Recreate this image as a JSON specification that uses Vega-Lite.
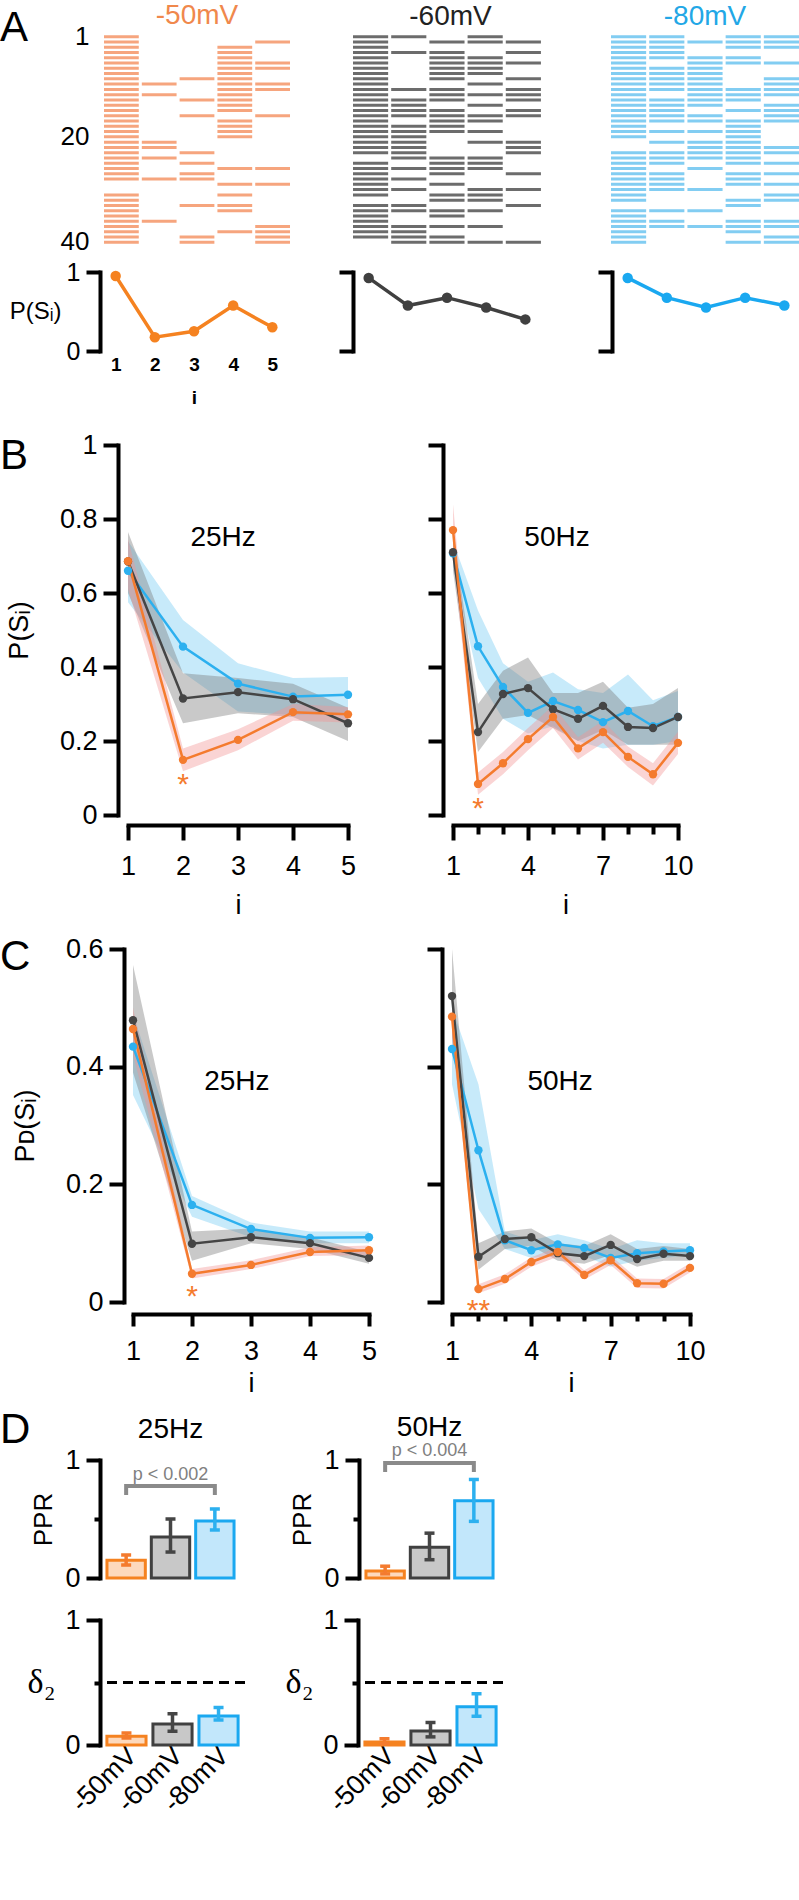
{
"$schema": "https://vega.github.io/schema/vega-lite/v6.json",
"padding": {"top": 2, "left": 0, "right": 0, "bottom": 0},
"background": "white",
"spacing": 0,
"config": {
  "view": {"stroke": null},
  "font": "Liberation Sans",
  "axis": {"grid": false, "domainColor": "black", "tickColor": "black", "labelColor": "black", "titleColor": "black", "labelFont": "Liberation Sans", "titleFont": "Liberation Sans", "labelFontSize": 27, "titleFontSize": 27, "titleFontWeight": "normal", "domainWidth": 4, "tickWidth": 4, "domainCap": "square", "labelFlush": false, "labelOverlap": false},
  "title": {"font": "Liberation Sans", "fontWeight": "normal", "color": "black"},
  "text": {"font": "Liberation Sans"}
},
"datasets": {
"r50": [
{"trial":1,"row":1},{"trial":1,"row":2},{"trial":1,"row":3},{"trial":1,"row":4},{"trial":1,"row":5},{"trial":1,"row":6},{"trial":1,"row":7},{"trial":1,"row":8},{"trial":1,"row":9},{"trial":1,"row":10},{"trial":1,"row":11},{"trial":1,"row":12},{"trial":1,"row":13},{"trial":1,"row":14},{"trial":1,"row":15},{"trial":1,"row":16},{"trial":1,"row":17},{"trial":1,"row":18},{"trial":1,"row":19},{"trial":1,"row":20},{"trial":1,"row":21},{"trial":1,"row":22},{"trial":1,"row":23},{"trial":1,"row":24},{"trial":1,"row":25},{"trial":1,"row":26},{"trial":1,"row":27},{"trial":1,"row":28},{"trial":1,"row":31},{"trial":1,"row":32},{"trial":1,"row":33},{"trial":1,"row":34},{"trial":1,"row":35},{"trial":1,"row":36},{"trial":1,"row":37},{"trial":1,"row":38},{"trial":1,"row":39},{"trial":1,"row":40},
{"trial":2,"row":10},{"trial":2,"row":12},{"trial":2,"row":21},{"trial":2,"row":22},{"trial":2,"row":24},{"trial":2,"row":28},{"trial":2,"row":36},
{"trial":3,"row":9},{"trial":3,"row":13},{"trial":3,"row":16},{"trial":3,"row":23},{"trial":3,"row":25},{"trial":3,"row":27},{"trial":3,"row":28},{"trial":3,"row":33},{"trial":3,"row":39},{"trial":3,"row":40},
{"trial":4,"row":3},{"trial":4,"row":4},{"trial":4,"row":5},{"trial":4,"row":6},{"trial":4,"row":7},{"trial":4,"row":8},{"trial":4,"row":9},{"trial":4,"row":10},{"trial":4,"row":11},{"trial":4,"row":12},{"trial":4,"row":13},{"trial":4,"row":14},{"trial":4,"row":15},{"trial":4,"row":17},{"trial":4,"row":18},{"trial":4,"row":19},{"trial":4,"row":20},{"trial":4,"row":26},{"trial":4,"row":29},{"trial":4,"row":31},{"trial":4,"row":33},{"trial":4,"row":34},{"trial":4,"row":38},
{"trial":5,"row":2},{"trial":5,"row":6},{"trial":5,"row":7},{"trial":5,"row":10},{"trial":5,"row":11},{"trial":5,"row":16},{"trial":5,"row":26},{"trial":5,"row":29},{"trial":5,"row":37},{"trial":5,"row":38},{"trial":5,"row":39},{"trial":5,"row":40}
],
"r60": [
{"trial":1,"row":1},{"trial":1,"row":2},{"trial":1,"row":3},{"trial":1,"row":4},{"trial":1,"row":5},{"trial":1,"row":6},{"trial":1,"row":7},{"trial":1,"row":8},{"trial":1,"row":9},{"trial":1,"row":10},{"trial":1,"row":11},{"trial":1,"row":12},{"trial":1,"row":13},{"trial":1,"row":14},{"trial":1,"row":15},{"trial":1,"row":16},{"trial":1,"row":17},{"trial":1,"row":18},{"trial":1,"row":19},{"trial":1,"row":20},{"trial":1,"row":21},{"trial":1,"row":22},{"trial":1,"row":23},{"trial":1,"row":25},{"trial":1,"row":26},{"trial":1,"row":27},{"trial":1,"row":28},{"trial":1,"row":29},{"trial":1,"row":30},{"trial":1,"row":31},{"trial":1,"row":33},{"trial":1,"row":34},{"trial":1,"row":35},{"trial":1,"row":36},{"trial":1,"row":37},{"trial":1,"row":38},{"trial":1,"row":39},
{"trial":2,"row":1},{"trial":2,"row":4},{"trial":2,"row":11},{"trial":2,"row":13},{"trial":2,"row":14},{"trial":2,"row":15},{"trial":2,"row":16},{"trial":2,"row":18},{"trial":2,"row":19},{"trial":2,"row":20},{"trial":2,"row":21},{"trial":2,"row":22},{"trial":2,"row":23},{"trial":2,"row":24},{"trial":2,"row":26},{"trial":2,"row":28},{"trial":2,"row":30},{"trial":2,"row":33},{"trial":2,"row":34},{"trial":2,"row":37},{"trial":2,"row":38},{"trial":2,"row":39},{"trial":2,"row":40},
{"trial":3,"row":2},{"trial":3,"row":4},{"trial":3,"row":5},{"trial":3,"row":6},{"trial":3,"row":7},{"trial":3,"row":8},{"trial":3,"row":9},{"trial":3,"row":11},{"trial":3,"row":12},{"trial":3,"row":13},{"trial":3,"row":15},{"trial":3,"row":16},{"trial":3,"row":17},{"trial":3,"row":18},{"trial":3,"row":19},{"trial":3,"row":24},{"trial":3,"row":25},{"trial":3,"row":26},{"trial":3,"row":27},{"trial":3,"row":29},{"trial":3,"row":31},{"trial":3,"row":32},{"trial":3,"row":34},{"trial":3,"row":35},{"trial":3,"row":37},{"trial":3,"row":39},{"trial":3,"row":40},
{"trial":4,"row":1},{"trial":4,"row":2},{"trial":4,"row":5},{"trial":4,"row":6},{"trial":4,"row":7},{"trial":4,"row":8},{"trial":4,"row":10},{"trial":4,"row":12},{"trial":4,"row":14},{"trial":4,"row":16},{"trial":4,"row":17},{"trial":4,"row":19},{"trial":4,"row":21},{"trial":4,"row":24},{"trial":4,"row":25},{"trial":4,"row":26},{"trial":4,"row":30},{"trial":4,"row":31},{"trial":4,"row":32},{"trial":4,"row":34},{"trial":4,"row":37},{"trial":4,"row":40},
{"trial":5,"row":2},{"trial":5,"row":4},{"trial":5,"row":6},{"trial":5,"row":9},{"trial":5,"row":11},{"trial":5,"row":12},{"trial":5,"row":13},{"trial":5,"row":15},{"trial":5,"row":16},{"trial":5,"row":21},{"trial":5,"row":22},{"trial":5,"row":23},{"trial":5,"row":27},{"trial":5,"row":30},{"trial":5,"row":33},{"trial":5,"row":40}
],
"r80": [
{"trial":1,"row":1},{"trial":1,"row":2},{"trial":1,"row":3},{"trial":1,"row":4},{"trial":1,"row":5},{"trial":1,"row":6},{"trial":1,"row":7},{"trial":1,"row":8},{"trial":1,"row":9},{"trial":1,"row":10},{"trial":1,"row":11},{"trial":1,"row":12},{"trial":1,"row":13},{"trial":1,"row":14},{"trial":1,"row":15},{"trial":1,"row":16},{"trial":1,"row":17},{"trial":1,"row":18},{"trial":1,"row":19},{"trial":1,"row":20},{"trial":1,"row":23},{"trial":1,"row":24},{"trial":1,"row":25},{"trial":1,"row":26},{"trial":1,"row":27},{"trial":1,"row":28},{"trial":1,"row":29},{"trial":1,"row":30},{"trial":1,"row":31},{"trial":1,"row":32},{"trial":1,"row":34},{"trial":1,"row":35},{"trial":1,"row":36},{"trial":1,"row":37},{"trial":1,"row":38},{"trial":1,"row":39},{"trial":1,"row":40},
{"trial":2,"row":1},{"trial":2,"row":2},{"trial":2,"row":3},{"trial":2,"row":4},{"trial":2,"row":5},{"trial":2,"row":7},{"trial":2,"row":8},{"trial":2,"row":9},{"trial":2,"row":10},{"trial":2,"row":11},{"trial":2,"row":13},{"trial":2,"row":14},{"trial":2,"row":15},{"trial":2,"row":16},{"trial":2,"row":17},{"trial":2,"row":19},{"trial":2,"row":21},{"trial":2,"row":23},{"trial":2,"row":24},{"trial":2,"row":25},{"trial":2,"row":27},{"trial":2,"row":28},{"trial":2,"row":29},{"trial":2,"row":30},{"trial":2,"row":34},{"trial":2,"row":36},{"trial":2,"row":37},
{"trial":3,"row":2},{"trial":3,"row":5},{"trial":3,"row":6},{"trial":3,"row":7},{"trial":3,"row":8},{"trial":3,"row":9},{"trial":3,"row":10},{"trial":3,"row":11},{"trial":3,"row":12},{"trial":3,"row":13},{"trial":3,"row":14},{"trial":3,"row":16},{"trial":3,"row":17},{"trial":3,"row":19},{"trial":3,"row":21},{"trial":3,"row":22},{"trial":3,"row":23},{"trial":3,"row":24},{"trial":3,"row":26},{"trial":3,"row":30},{"trial":3,"row":34},{"trial":3,"row":37},
{"trial":4,"row":1},{"trial":4,"row":2},{"trial":4,"row":3},{"trial":4,"row":5},{"trial":4,"row":6},{"trial":4,"row":11},{"trial":4,"row":12},{"trial":4,"row":13},{"trial":4,"row":15},{"trial":4,"row":17},{"trial":4,"row":18},{"trial":4,"row":19},{"trial":4,"row":20},{"trial":4,"row":21},{"trial":4,"row":22},{"trial":4,"row":23},{"trial":4,"row":24},{"trial":4,"row":25},{"trial":4,"row":27},{"trial":4,"row":28},{"trial":4,"row":29},{"trial":4,"row":32},{"trial":4,"row":33},{"trial":4,"row":36},{"trial":4,"row":37},{"trial":4,"row":38},{"trial":4,"row":40},
{"trial":5,"row":1},{"trial":5,"row":2},{"trial":5,"row":3},{"trial":5,"row":6},{"trial":5,"row":9},{"trial":5,"row":10},{"trial":5,"row":11},{"trial":5,"row":12},{"trial":5,"row":14},{"trial":5,"row":15},{"trial":5,"row":16},{"trial":5,"row":17},{"trial":5,"row":22},{"trial":5,"row":23},{"trial":5,"row":25},{"trial":5,"row":27},{"trial":5,"row":29},{"trial":5,"row":31},{"trial":5,"row":32},{"trial":5,"row":36},{"trial":5,"row":37},{"trial":5,"row":39},{"trial":5,"row":40}
],
"psi": [
{"c":"-50mV","i":1,"p":0.95},{"c":"-50mV","i":2,"p":0.175},{"c":"-50mV","i":3,"p":0.25},{"c":"-50mV","i":4,"p":0.575},{"c":"-50mV","i":5,"p":0.3},
{"c":"-60mV","i":1,"p":0.925},{"c":"-60mV","i":2,"p":0.575},{"c":"-60mV","i":3,"p":0.675},{"c":"-60mV","i":4,"p":0.55},{"c":"-60mV","i":5,"p":0.4},
{"c":"-80mV","i":1,"p":0.925},{"c":"-80mV","i":2,"p":0.675},{"c":"-80mV","i":3,"p":0.55},{"c":"-80mV","i":4,"p":0.675},{"c":"-80mV","i":5,"p":0.575}
],
"b25": [
{"c":"-80mV","i":1,"m":0.66,"lo":0.575,"hi":0.74},{"c":"-80mV","i":2,"m":0.455,"lo":0.385,"hi":0.527},{"c":"-80mV","i":3,"m":0.355,"lo":0.28,"hi":0.41},{"c":"-80mV","i":4,"m":0.32,"lo":0.27,"hi":0.37},{"c":"-80mV","i":5,"m":0.325,"lo":0.275,"hi":0.373},
{"c":"-60mV","i":1,"m":0.685,"lo":0.6,"hi":0.765},{"c":"-60mV","i":2,"m":0.315,"lo":0.248,"hi":0.383},{"c":"-60mV","i":3,"m":0.332,"lo":0.275,"hi":0.37},{"c":"-60mV","i":4,"m":0.313,"lo":0.265,"hi":0.355},{"c":"-60mV","i":5,"m":0.248,"lo":0.2,"hi":0.29},
{"c":"-50mV","i":1,"m":0.686,"lo":0.61,"hi":0.745},{"c":"-50mV","i":2,"m":0.149,"lo":0.118,"hi":0.18},{"c":"-50mV","i":3,"m":0.203,"lo":0.175,"hi":0.232},{"c":"-50mV","i":4,"m":0.278,"lo":0.255,"hi":0.3},{"c":"-50mV","i":5,"m":0.272,"lo":0.25,"hi":0.292}
],
"b50": [
{"c":"-80mV","i":1,"m":0.707,"lo":0.67,"hi":0.74},{"c":"-80mV","i":2,"m":0.456,"lo":0.37,"hi":0.553},{"c":"-80mV","i":3,"m":0.346,"lo":0.26,"hi":0.41},{"c":"-80mV","i":4,"m":0.276,"lo":0.22,"hi":0.36},{"c":"-80mV","i":5,"m":0.308,"lo":0.24,"hi":0.385},{"c":"-80mV","i":6,"m":0.284,"lo":0.2,"hi":0.34},{"c":"-80mV","i":7,"m":0.251,"lo":0.18,"hi":0.33},{"c":"-80mV","i":8,"m":0.281,"lo":0.19,"hi":0.38},{"c":"-80mV","i":9,"m":0.24,"lo":0.19,"hi":0.31},{"c":"-80mV","i":10,"m":0.265,"lo":0.2,"hi":0.335},
{"c":"-60mV","i":1,"m":0.71,"lo":0.66,"hi":0.76},{"c":"-60mV","i":2,"m":0.224,"lo":0.17,"hi":0.3},{"c":"-60mV","i":3,"m":0.327,"lo":0.26,"hi":0.39},{"c":"-60mV","i":4,"m":0.343,"lo":0.27,"hi":0.426},{"c":"-60mV","i":5,"m":0.286,"lo":0.235,"hi":0.33},{"c":"-60mV","i":6,"m":0.26,"lo":0.2,"hi":0.33},{"c":"-60mV","i":7,"m":0.295,"lo":0.23,"hi":0.36},{"c":"-60mV","i":8,"m":0.238,"lo":0.19,"hi":0.29},{"c":"-60mV","i":9,"m":0.235,"lo":0.19,"hi":0.3},{"c":"-60mV","i":10,"m":0.265,"lo":0.19,"hi":0.343},
{"c":"-50mV","i":1,"m":0.77,"lo":0.7,"hi":0.84},{"c":"-50mV","i":2,"m":0.084,"lo":0.055,"hi":0.115},{"c":"-50mV","i":3,"m":0.14,"lo":0.11,"hi":0.17},{"c":"-50mV","i":4,"m":0.205,"lo":0.175,"hi":0.235},{"c":"-50mV","i":5,"m":0.265,"lo":0.235,"hi":0.295},{"c":"-50mV","i":6,"m":0.18,"lo":0.15,"hi":0.21},{"c":"-50mV","i":7,"m":0.224,"lo":0.195,"hi":0.255},{"c":"-50mV","i":8,"m":0.157,"lo":0.13,"hi":0.185},{"c":"-50mV","i":9,"m":0.11,"lo":0.08,"hi":0.14},{"c":"-50mV","i":10,"m":0.195,"lo":0.165,"hi":0.225}
],
"c25": [
{"c":"-80mV","i":1,"m":0.434,"lo":0.352,"hi":0.49},{"c":"-80mV","i":2,"m":0.165,"lo":0.145,"hi":0.18},{"c":"-80mV","i":3,"m":0.124,"lo":0.11,"hi":0.135},{"c":"-80mV","i":4,"m":0.109,"lo":0.1,"hi":0.12},{"c":"-80mV","i":5,"m":0.11,"lo":0.1,"hi":0.12},
{"c":"-60mV","i":1,"m":0.479,"lo":0.39,"hi":0.573},{"c":"-60mV","i":2,"m":0.099,"lo":0.07,"hi":0.12},{"c":"-60mV","i":3,"m":0.11,"lo":0.1,"hi":0.125},{"c":"-60mV","i":4,"m":0.1,"lo":0.09,"hi":0.11},{"c":"-60mV","i":5,"m":0.075,"lo":0.065,"hi":0.085},
{"c":"-50mV","i":1,"m":0.464,"lo":0.42,"hi":0.5},{"c":"-50mV","i":2,"m":0.048,"lo":0.04,"hi":0.056},{"c":"-50mV","i":3,"m":0.063,"lo":0.056,"hi":0.071},{"c":"-50mV","i":4,"m":0.085,"lo":0.078,"hi":0.093},{"c":"-50mV","i":5,"m":0.088,"lo":0.08,"hi":0.096}
],
"c50": [
{"c":"-80mV","i":1,"m":0.43,"lo":0.37,"hi":0.5},{"c":"-80mV","i":2,"m":0.258,"lo":0.158,"hi":0.37},{"c":"-80mV","i":3,"m":0.105,"lo":0.09,"hi":0.12},{"c":"-80mV","i":4,"m":0.088,"lo":0.075,"hi":0.105},{"c":"-80mV","i":5,"m":0.098,"lo":0.08,"hi":0.115},{"c":"-80mV","i":6,"m":0.092,"lo":0.078,"hi":0.105},{"c":"-80mV","i":7,"m":0.075,"lo":0.06,"hi":0.09},{"c":"-80mV","i":8,"m":0.083,"lo":0.07,"hi":0.105},{"c":"-80mV","i":9,"m":0.086,"lo":0.075,"hi":0.1},{"c":"-80mV","i":10,"m":0.088,"lo":0.08,"hi":0.1},
{"c":"-60mV","i":1,"m":0.52,"lo":0.45,"hi":0.6},{"c":"-60mV","i":2,"m":0.077,"lo":0.055,"hi":0.1},{"c":"-60mV","i":3,"m":0.107,"lo":0.09,"hi":0.12},{"c":"-60mV","i":4,"m":0.11,"lo":0.095,"hi":0.125},{"c":"-60mV","i":5,"m":0.083,"lo":0.07,"hi":0.1},{"c":"-60mV","i":6,"m":0.078,"lo":0.065,"hi":0.095},{"c":"-60mV","i":7,"m":0.097,"lo":0.08,"hi":0.115},{"c":"-60mV","i":8,"m":0.073,"lo":0.06,"hi":0.09},{"c":"-60mV","i":9,"m":0.082,"lo":0.07,"hi":0.095},{"c":"-60mV","i":10,"m":0.078,"lo":0.07,"hi":0.09},
{"c":"-50mV","i":1,"m":0.485,"lo":0.45,"hi":0.52},{"c":"-50mV","i":2,"m":0.022,"lo":0.015,"hi":0.03},{"c":"-50mV","i":3,"m":0.039,"lo":0.031,"hi":0.047},{"c":"-50mV","i":4,"m":0.068,"lo":0.06,"hi":0.076},{"c":"-50mV","i":5,"m":0.085,"lo":0.077,"hi":0.093},{"c":"-50mV","i":6,"m":0.046,"lo":0.038,"hi":0.054},{"c":"-50mV","i":7,"m":0.071,"lo":0.063,"hi":0.079},{"c":"-50mV","i":8,"m":0.032,"lo":0.024,"hi":0.04},{"c":"-50mV","i":9,"m":0.031,"lo":0.023,"hi":0.039},{"c":"-50mV","i":10,"m":0.058,"lo":0.05,"hi":0.066}
],
"ppr25": [{"c":"-50mV","v":0.15,"lo":0.11,"hi":0.195},{"c":"-60mV","v":0.347,"lo":0.22,"hi":0.5},{"c":"-80mV","v":0.483,"lo":0.407,"hi":0.585}],
"ppr50": [{"c":"-50mV","v":0.06,"lo":0.035,"hi":0.1},{"c":"-60mV","v":0.26,"lo":0.155,"hi":0.38},{"c":"-80mV","v":0.655,"lo":0.48,"hi":0.835}],
"d25": [{"c":"-50mV","v":0.07,"lo":0.056,"hi":0.096},{"c":"-60mV","v":0.168,"lo":0.11,"hi":0.25},{"c":"-80mV","v":0.232,"lo":0.2,"hi":0.3}],
"d50": [{"c":"-50mV","v":0.025,"lo":0.01,"hi":0.05},{"c":"-60mV","v":0.113,"lo":0.065,"hi":0.18},{"c":"-80mV","v":0.306,"lo":0.23,"hi":0.41}],
"br25": [{"c":"-50mV","y":0.703,"o":1},{"c":"-50mV","y":0.78,"o":2},{"c":"-80mV","y":0.78,"o":3},{"c":"-80mV","y":0.703,"o":4}],
"br50": [{"c":"-50mV","y":0.898,"o":1},{"c":"-50mV","y":0.975,"o":2},{"c":"-80mV","y":0.975,"o":3},{"c":"-80mV","y":0.898,"o":4}]
},
"vconcat": [
{
 "bounds": "flush", "spacing": 63,
 "hconcat": [
  {"width": 41, "height": 1, "data": {"values": []}, "mark": "point",
   "title": {"text": "A", "anchor": "start", "frame": "group", "fontSize": 42, "offset": -16}},
  {"width": 186, "height": 211, "data": {"name": "r50"},
   "title": {"text": "-50mV", "color": "#f0884c", "fontSize": 28, "frame": "group", "offset": -7},
   "mark": {"type": "rect", "color": "#f6a57e"},
   "encoding": {
    "x": {"field": "trial", "type": "ordinal", "scale": {"domain": [1,2,3,4,5], "paddingInner": 0.08, "paddingOuter": 0}, "axis": null},
    "y": {"field": "row", "type": "ordinal", "scale": {"domain": [1,2,3,4,5,6,7,8,9,10,11,12,13,14,15,16,17,18,19,20,21,22,23,24,25,26,27,28,29,30,31,32,33,34,35,36,37,38,39,40], "paddingInner": 0.43, "paddingOuter": 0.215},
          "axis": {"values": [1,20,40], "domain": false, "ticks": false, "tickSize": 0, "labelPadding": 15, "labelFontSize": 26, "title": null}}
   }},
  {"width": 195, "height": 211, "data": {"name": "r60"},
   "title": {"text": "-60mV", "color": "#222222", "fontSize": 28, "frame": "group", "offset": 3},
   "mark": {"type": "rect", "color": "#6c6c6c"},
   "encoding": {
    "x": {"field": "trial", "type": "ordinal", "scale": {"domain": [1,2,3,4,5], "paddingInner": 0.08, "paddingOuter": 0.0925, "align": 0}, "axis": null},
    "y": {"field": "row", "type": "ordinal", "scale": {"domain": [1,2,3,4,5,6,7,8,9,10,11,12,13,14,15,16,17,18,19,20,21,22,23,24,25,26,27,28,29,30,31,32,33,34,35,36,37,38,39,40], "paddingInner": 0.43, "paddingOuter": 0.215}, "axis": null}
   }},
  {"width": 188, "height": 211, "data": {"name": "r80"},
   "title": {"text": "-80mV", "color": "#22a7e6", "fontSize": 28, "frame": "group", "offset": 3},
   "mark": {"type": "rect", "color": "#82cdf2"},
   "encoding": {
    "x": {"field": "trial", "type": "ordinal", "scale": {"domain": [1,2,3,4,5], "paddingInner": 0.08, "paddingOuter": 0}, "axis": null},
    "y": {"field": "row", "type": "ordinal", "scale": {"domain": [1,2,3,4,5,6,7,8,9,10,11,12,13,14,15,16,17,18,19,20,21,22,23,24,25,26,27,28,29,30,31,32,33,34,35,36,37,38,39,40], "paddingInner": 0.43, "paddingOuter": 0.215}, "axis": null}
   }}
 ]
},
{"width": 1, "height": 5, "data": {"values": []}, "mark": "point"},
{
 "bounds": "flush", "spacing": 65,
 "hconcat": [
  {"width": 35, "height": 1, "data": {"values": []}, "mark": "point"},
  {"width": 188, "height": 79, "data": {"name": "psi"},
   "transform": [{"filter": "datum.c === '-50mV'"}],
   "mark": {"type": "line", "color": "#f58220", "strokeWidth": 3.5, "point": {"filled": true, "size": 110, "color": "#f58220"}},
   "encoding": {
    "x": {"field": "i", "type": "quantitative", "scale": {"domain": [0.6, 5.4], "nice": false, "zero": false},
          "axis": {"values": [1,2,3,4,5], "format": "d", "domain": false, "ticks": false, "tickSize": 0, "labelFontSize": 19, "labelFontWeight": "bold", "labelPadding": 4, "title": "i", "titleFontSize": 19, "titleFontWeight": "bold", "titlePadding": 14}},
    "y": {"field": "p", "type": "quantitative", "scale": {"domain": [0, 1], "nice": false},
          "axis": {"values": [0, 1], "format": "d", "tickSize": 14, "labelFontSize": 25, "labelPadding": 6, "title": "P(Sᵢ)", "titleAngle": 0, "titleAlign": "right", "titleBaseline": "middle", "titlePadding": 5, "titleFontSize": 24}}
   }},
  {"width": 194, "height": 79, "data": {"name": "psi"},
   "transform": [{"filter": "datum.c === '-60mV'"}],
   "mark": {"type": "line", "color": "#404040", "strokeWidth": 3.5, "point": {"filled": true, "size": 110, "color": "#404040"}},
   "encoding": {
    "x": {"field": "i", "type": "quantitative", "scale": {"domain": [0.6, 5.553], "nice": false, "zero": false}, "axis": null},
    "y": {"field": "p", "type": "quantitative", "scale": {"domain": [0, 1], "nice": false},
          "axis": {"values": [0, 1], "tickSize": 14, "labels": false, "title": null}}
   }},
  {"width": 187, "height": 79, "data": {"name": "psi"},
   "transform": [{"filter": "datum.c === '-80mV'"}],
   "mark": {"type": "line", "color": "#1aa8f0", "strokeWidth": 3.5, "point": {"filled": true, "size": 110, "color": "#1aa8f0"}},
   "encoding": {
    "x": {"field": "i", "type": "quantitative", "scale": {"domain": [0.6, 5.374], "nice": false, "zero": false}, "axis": null},
    "y": {"field": "p", "type": "quantitative", "scale": {"domain": [0, 1], "nice": false},
          "axis": {"values": [0, 1], "tickSize": 14, "labels": false, "title": null}}
   }}
 ]
},
{"width": 1, "height": 24, "data": {"values": []}, "mark": "point"},
{
 "bounds": "flush", "spacing": 105,
 "hconcat": [
  {"width": 23, "height": 1, "data": {"values": []}, "mark": "point",
   "title": {"text": "B", "anchor": "start", "frame": "group", "fontSize": 42, "offset": -33}},
  {"width": 220, "height": 370,
   "layer": [
    {"data": {"name": "b25"}, "transform": [{"filter": "datum.c === '-80mV'"}], "mark": {"type": "area", "color": "#73caf2", "opacity": 0.4},
     "encoding": {
      "x": {"field": "i", "type": "quantitative", "scale": {"domain": [1, 5], "nice": false, "zero": false},
            "axis": {"values": [1,2,3,4,5], "format": "d", "offset": 10, "tickSize": 15, "labelPadding": 13, "title": "i", "titlePadding": 13}},
      "y": {"field": "lo", "type": "quantitative", "scale": {"domain": [0, 1], "nice": false, "zero": false},
            "axis": {"values": [0,0.2,0.4,0.6,0.8,1], "format": "~g", "offset": 10, "tickSize": 15, "labelPadding": 6, "title": "P(Sᵢ)", "titlePadding": 26}},
      "y2": {"field": "hi"}}},
    {"data": {"name": "b25"}, "transform": [{"filter": "datum.c === '-60mV'"}], "mark": {"type": "area", "color": "#787878", "opacity": 0.4},
     "encoding": {"x": {"field": "i", "type": "quantitative"}, "y": {"field": "lo", "type": "quantitative"}, "y2": {"field": "hi"}}},
    {"data": {"name": "b25"}, "transform": [{"filter": "datum.c === '-50mV'"}], "mark": {"type": "area", "color": "#f29494", "opacity": 0.4},
     "encoding": {"x": {"field": "i", "type": "quantitative"}, "y": {"field": "lo", "type": "quantitative"}, "y2": {"field": "hi"}}},
    {"data": {"name": "b25"}, "mark": {"type": "line", "strokeWidth": 2.5},
     "encoding": {"x": {"field": "i", "type": "quantitative"}, "y": {"field": "m", "type": "quantitative"},
      "stroke": {"field": "c", "type": "nominal", "scale": {"domain": ["-50mV","-60mV","-80mV"], "range": ["#f47b2e","#454545","#2cb0ef"]}, "legend": null}}},
    {"data": {"name": "b25"}, "mark": {"type": "circle", "size": 70, "opacity": 1},
     "encoding": {"x": {"field": "i", "type": "quantitative"}, "y": {"field": "m", "type": "quantitative"},
      "color": {"field": "c", "type": "nominal", "scale": {"domain": ["-50mV","-60mV","-80mV"], "range": ["#f47b2e","#454545","#2cb0ef"]}, "legend": null}}},
    {"data": {"values": [{}]}, "mark": {"type": "text", "text": "25Hz", "fontSize": 28}, "encoding": {"x": {"datum": 2.73}, "y": {"datum": 0.749}}},
    {"data": {"values": [{}]}, "mark": {"type": "text", "text": "*", "fontSize": 30, "color": "#f47b2e"}, "encoding": {"x": {"datum": 2}, "y": {"datum": 0.08}}}
   ]},
  {"width": 225, "height": 370,
   "resolve": {"axis": {"x": "independent"}},
   "layer": [
    {"data": {"name": "b50"}, "transform": [{"filter": "datum.c === '-80mV'"}], "mark": {"type": "area", "color": "#73caf2", "opacity": 0.4},
     "encoding": {
      "x": {"field": "i", "type": "quantitative", "scale": {"domain": [1, 10], "nice": false, "zero": false},
            "axis": {"orient": "bottom", "values": [1,4,7,10], "format": "d", "offset": 10, "tickSize": 15, "labelPadding": 13, "title": "i", "titlePadding": 13}},
      "y": {"field": "lo", "type": "quantitative", "scale": {"domain": [0, 1], "nice": false, "zero": false},
            "axis": {"values": [0,0.2,0.4,0.6,0.8,1], "offset": 10, "tickSize": 15, "labels": false, "title": null}},
      "y2": {"field": "hi"}}},
    {"data": {"name": "b50"}, "transform": [{"filter": "datum.c === '-60mV'"}], "mark": {"type": "area", "color": "#787878", "opacity": 0.4},
     "encoding": {"x": {"field": "i", "type": "quantitative", "axis": null}, "y": {"field": "lo", "type": "quantitative"}, "y2": {"field": "hi"}}},
    {"data": {"name": "b50"}, "transform": [{"filter": "datum.c === '-50mV'"}], "mark": {"type": "area", "color": "#f29494", "opacity": 0.4},
     "encoding": {"x": {"field": "i", "type": "quantitative", "axis": null}, "y": {"field": "lo", "type": "quantitative"}, "y2": {"field": "hi"}}},
    {"data": {"name": "b50"}, "mark": {"type": "line", "strokeWidth": 2.5},
     "encoding": {"x": {"field": "i", "type": "quantitative", "axis": null}, "y": {"field": "m", "type": "quantitative"},
      "stroke": {"field": "c", "type": "nominal", "scale": {"domain": ["-50mV","-60mV","-80mV"], "range": ["#f47b2e","#454545","#2cb0ef"]}, "legend": null}}},
    {"data": {"name": "b50"}, "mark": {"type": "circle", "size": 70, "opacity": 1},
     "encoding": {"x": {"field": "i", "type": "quantitative", "axis": {"orient": "bottom", "values": [2,3,5,6,8,9], "labels": false, "domain": false, "offset": 10, "tickSize": 9, "title": null}}, "y": {"field": "m", "type": "quantitative"},
      "color": {"field": "c", "type": "nominal", "scale": {"domain": ["-50mV","-60mV","-80mV"], "range": ["#f47b2e","#454545","#2cb0ef"]}, "legend": null}}},
    {"data": {"values": [{}]}, "mark": {"type": "text", "text": "50Hz", "fontSize": 28}, "encoding": {"x": {"datum": 5.16, "axis": null}, "y": {"datum": 0.749}}},
    {"data": {"values": [{}]}, "mark": {"type": "text", "text": "*", "fontSize": 30, "color": "#f47b2e"}, "encoding": {"x": {"datum": 2, "axis": null}, "y": {"datum": 0.015}}}
   ]}
 ]
},
{"width": 1, "height": 17, "data": {"values": []}, "mark": "point"},
{
 "bounds": "flush", "spacing": 83,
 "hconcat": [
  {"width": 50, "height": 1, "data": {"values": []}, "mark": "point",
   "title": {"text": "C", "anchor": "start", "frame": "group", "fontSize": 42, "offset": -30}},
  {"width": 236, "height": 353,
   "layer": [
    {"data": {"name": "c25"}, "transform": [{"filter": "datum.c === '-80mV'"}], "mark": {"type": "area", "color": "#73caf2", "opacity": 0.4},
     "encoding": {
      "x": {"field": "i", "type": "quantitative", "scale": {"domain": [1, 5], "nice": false, "zero": false},
            "axis": {"values": [1,2,3,4,5], "format": "d", "offset": 12, "tickSize": 12, "labelPadding": 12, "title": "i", "titlePadding": 6}},
      "y": {"field": "lo", "type": "quantitative", "scale": {"domain": [0, 0.6], "nice": false, "zero": false},
            "axis": {"values": [0,0.2,0.4,0.6], "format": "~g", "offset": 9, "tickSize": 15, "labelPadding": 6, "title": "Pᴅ(Sᵢ)", "titlePadding": 26}},
      "y2": {"field": "hi"}}},
    {"data": {"name": "c25"}, "transform": [{"filter": "datum.c === '-60mV'"}], "mark": {"type": "area", "color": "#787878", "opacity": 0.4},
     "encoding": {"x": {"field": "i", "type": "quantitative"}, "y": {"field": "lo", "type": "quantitative"}, "y2": {"field": "hi"}}},
    {"data": {"name": "c25"}, "transform": [{"filter": "datum.c === '-50mV'"}], "mark": {"type": "area", "color": "#f29494", "opacity": 0.4},
     "encoding": {"x": {"field": "i", "type": "quantitative"}, "y": {"field": "lo", "type": "quantitative"}, "y2": {"field": "hi"}}},
    {"data": {"name": "c25"}, "mark": {"type": "line", "strokeWidth": 2.5},
     "encoding": {"x": {"field": "i", "type": "quantitative"}, "y": {"field": "m", "type": "quantitative"},
      "stroke": {"field": "c", "type": "nominal", "scale": {"domain": ["-50mV","-60mV","-80mV"], "range": ["#f47b2e","#454545","#2cb0ef"]}, "legend": null}}},
    {"data": {"name": "c25"}, "mark": {"type": "circle", "size": 70, "opacity": 1},
     "encoding": {"x": {"field": "i", "type": "quantitative"}, "y": {"field": "m", "type": "quantitative"},
      "color": {"field": "c", "type": "nominal", "scale": {"domain": ["-50mV","-60mV","-80mV"], "range": ["#f47b2e","#454545","#2cb0ef"]}, "legend": null}}},
    {"data": {"values": [{}]}, "mark": {"type": "text", "text": "25Hz", "fontSize": 28}, "encoding": {"x": {"datum": 2.76}, "y": {"datum": 0.374}}},
    {"data": {"values": [{}]}, "mark": {"type": "text", "text": "*", "fontSize": 30, "color": "#f47b2e"}, "encoding": {"x": {"datum": 2}, "y": {"datum": 0.008}}}
   ]},
  {"width": 238, "height": 353,
   "resolve": {"axis": {"x": "independent"}},
   "layer": [
    {"data": {"name": "c50"}, "transform": [{"filter": "datum.c === '-80mV'"}], "mark": {"type": "area", "color": "#73caf2", "opacity": 0.4},
     "encoding": {
      "x": {"field": "i", "type": "quantitative", "scale": {"domain": [1, 10], "nice": false, "zero": false},
            "axis": {"orient": "bottom", "values": [1,4,7,10], "format": "d", "offset": 12, "tickSize": 12, "labelPadding": 12, "title": "i", "titlePadding": 6}},
      "y": {"field": "lo", "type": "quantitative", "scale": {"domain": [0, 0.6], "nice": false, "zero": false},
            "axis": {"values": [0,0.2,0.4,0.6], "offset": 10, "tickSize": 15, "labels": false, "title": null}},
      "y2": {"field": "hi"}}},
    {"data": {"name": "c50"}, "transform": [{"filter": "datum.c === '-60mV'"}], "mark": {"type": "area", "color": "#787878", "opacity": 0.4},
     "encoding": {"x": {"field": "i", "type": "quantitative", "axis": null}, "y": {"field": "lo", "type": "quantitative"}, "y2": {"field": "hi"}}},
    {"data": {"name": "c50"}, "transform": [{"filter": "datum.c === '-50mV'"}], "mark": {"type": "area", "color": "#f29494", "opacity": 0.4},
     "encoding": {"x": {"field": "i", "type": "quantitative", "axis": null}, "y": {"field": "lo", "type": "quantitative"}, "y2": {"field": "hi"}}},
    {"data": {"name": "c50"}, "mark": {"type": "line", "strokeWidth": 2.5},
     "encoding": {"x": {"field": "i", "type": "quantitative", "axis": null}, "y": {"field": "m", "type": "quantitative"},
      "stroke": {"field": "c", "type": "nominal", "scale": {"domain": ["-50mV","-60mV","-80mV"], "range": ["#f47b2e","#454545","#2cb0ef"]}, "legend": null}}},
    {"data": {"name": "c50"}, "mark": {"type": "circle", "size": 70, "opacity": 1},
     "encoding": {"x": {"field": "i", "type": "quantitative", "axis": {"orient": "bottom", "values": [2,3,5,6,8,9], "labels": false, "domain": false, "offset": 12, "tickSize": 7, "title": null}}, "y": {"field": "m", "type": "quantitative"},
      "color": {"field": "c", "type": "nominal", "scale": {"domain": ["-50mV","-60mV","-80mV"], "range": ["#f47b2e","#454545","#2cb0ef"]}, "legend": null}}},
    {"data": {"values": [{}]}, "mark": {"type": "text", "text": "50Hz", "fontSize": 28}, "encoding": {"x": {"datum": 5.09, "axis": null}, "y": {"datum": 0.374}}},
    {"data": {"values": [{}]}, "mark": {"type": "text", "text": "**", "fontSize": 30, "color": "#f47b2e"}, "encoding": {"x": {"datum": 2, "axis": null}, "y": {"datum": -0.016}}}
   ]}
 ]
},
{"width": 1, "height": 13, "data": {"values": []}, "mark": "point"},
{
 "bounds": "flush", "spacing": 50,
 "hconcat": [
  {"width": 50, "height": 1, "data": {"values": []}, "mark": "point",
   "title": {"text": "D", "anchor": "start", "frame": "group", "fontSize": 42, "offset": 8}},
  {"width": 141, "height": 118,
   "layer": [
    {"data": {"name": "ppr25"}, "transform": [{"filter": "datum.c === '-50mV'"}], "mark": {"type": "bar", "fill": "#fdd9bd", "stroke": "#f58220", "strokeWidth": 3},
     "encoding": {
      "x": {"field": "c", "type": "nominal", "scale": {"domain": ["-50mV","-60mV","-80mV"], "paddingInner": 0.135, "paddingOuter": 0.157}, "axis": null},
      "y": {"field": "v", "type": "quantitative", "scale": {"domain": [0, 1], "nice": false},
            "axis": {"values": [0, 0.5, 1], "format": "~g", "labelExpr": "datum.value == 0.5 ? '' : datum.label", "tickSize": {"condition": {"test": "datum.value == 0.5", "value": 6}, "value": 14}, "labelPadding": 6, "title": "PPR", "titleFontSize": 26, "titlePadding": 8}}}},
    {"data": {"name": "ppr25"}, "transform": [{"filter": "datum.c === '-60mV'"}], "mark": {"type": "bar", "fill": "#c8c8c8", "stroke": "#404040", "strokeWidth": 3},
     "encoding": {"x": {"field": "c", "type": "nominal"}, "y": {"field": "v", "type": "quantitative"}}},
    {"data": {"name": "ppr25"}, "transform": [{"filter": "datum.c === '-80mV'"}], "mark": {"type": "bar", "fill": "#c2e7fb", "stroke": "#1aa8f0", "strokeWidth": 3},
     "encoding": {"x": {"field": "c", "type": "nominal"}, "y": {"field": "v", "type": "quantitative"}}},
    {"data": {"name": "ppr25"}, "mark": {"type": "rule", "strokeWidth": 3.5},
     "encoding": {"x": {"field": "c", "type": "nominal"}, "y": {"field": "lo", "type": "quantitative"}, "y2": {"field": "hi"},
      "color": {"field": "c", "type": "nominal", "scale": {"domain": ["-50mV","-60mV","-80mV"], "range": ["#f58220","#404040","#1aa8f0"]}, "legend": null}}},
    {"data": {"name": "ppr25"}, "mark": {"type": "tick", "thickness": 3.5, "size": 10, "opacity": 1},
     "encoding": {"x": {"field": "c", "type": "nominal"}, "y": {"field": "lo", "type": "quantitative"}, "color": {"field": "c", "type": "nominal", "legend": null}}},
    {"data": {"name": "ppr25"}, "mark": {"type": "tick", "thickness": 3.5, "size": 10, "opacity": 1},
     "encoding": {"x": {"field": "c", "type": "nominal"}, "y": {"field": "hi", "type": "quantitative"}, "color": {"field": "c", "type": "nominal", "legend": null}}},
    {"data": {"name": "br25"}, "mark": {"type": "line", "color": "#8a8a8a", "strokeWidth": 4},
     "encoding": {"x": {"field": "c", "type": "nominal"}, "y": {"field": "y", "type": "quantitative"}, "order": {"field": "o"}}},
    {"data": {"values": [{}]}, "mark": {"type": "text", "text": "p < 0.002", "fontSize": 18, "color": "#808080"}, "encoding": {"x": {"datum": "-60mV"}, "y": {"datum": 0.873}}},
    {"data": {"values": [{}]}, "mark": {"type": "text", "text": "25Hz", "fontSize": 28}, "encoding": {"x": {"datum": "-60mV"}, "y": {"datum": 1.254}}}
   ]},
  {"width": 18, "height": 1, "data": {"values": []}, "mark": "point"},
  {"width": 141, "height": 118,
   "layer": [
    {"data": {"name": "ppr50"}, "transform": [{"filter": "datum.c === '-50mV'"}], "mark": {"type": "bar", "fill": "#fdd9bd", "stroke": "#f58220", "strokeWidth": 3},
     "encoding": {
      "x": {"field": "c", "type": "nominal", "scale": {"domain": ["-50mV","-60mV","-80mV"], "paddingInner": 0.135, "paddingOuter": 0.157}, "axis": null},
      "y": {"field": "v", "type": "quantitative", "scale": {"domain": [0, 1], "nice": false},
            "axis": {"values": [0, 0.5, 1], "format": "~g", "labelExpr": "datum.value == 0.5 ? '' : datum.label", "tickSize": {"condition": {"test": "datum.value == 0.5", "value": 6}, "value": 14}, "labelPadding": 6, "title": "PPR", "titleFontSize": 26, "titlePadding": 8}}}},
    {"data": {"name": "ppr50"}, "transform": [{"filter": "datum.c === '-60mV'"}], "mark": {"type": "bar", "fill": "#c8c8c8", "stroke": "#404040", "strokeWidth": 3},
     "encoding": {"x": {"field": "c", "type": "nominal"}, "y": {"field": "v", "type": "quantitative"}}},
    {"data": {"name": "ppr50"}, "transform": [{"filter": "datum.c === '-80mV'"}], "mark": {"type": "bar", "fill": "#c2e7fb", "stroke": "#1aa8f0", "strokeWidth": 3},
     "encoding": {"x": {"field": "c", "type": "nominal"}, "y": {"field": "v", "type": "quantitative"}}},
    {"data": {"name": "ppr50"}, "mark": {"type": "rule", "strokeWidth": 3.5},
     "encoding": {"x": {"field": "c", "type": "nominal"}, "y": {"field": "lo", "type": "quantitative"}, "y2": {"field": "hi"},
      "color": {"field": "c", "type": "nominal", "scale": {"domain": ["-50mV","-60mV","-80mV"], "range": ["#f58220","#404040","#1aa8f0"]}, "legend": null}}},
    {"data": {"name": "ppr50"}, "mark": {"type": "tick", "thickness": 3.5, "size": 10, "opacity": 1},
     "encoding": {"x": {"field": "c", "type": "nominal"}, "y": {"field": "lo", "type": "quantitative"}, "color": {"field": "c", "type": "nominal", "legend": null}}},
    {"data": {"name": "ppr50"}, "mark": {"type": "tick", "thickness": 3.5, "size": 10, "opacity": 1},
     "encoding": {"x": {"field": "c", "type": "nominal"}, "y": {"field": "hi", "type": "quantitative"}, "color": {"field": "c", "type": "nominal", "legend": null}}},
    {"data": {"name": "br50"}, "mark": {"type": "line", "color": "#8a8a8a", "strokeWidth": 4},
     "encoding": {"x": {"field": "c", "type": "nominal"}, "y": {"field": "y", "type": "quantitative"}, "order": {"field": "o"}}},
    {"data": {"values": [{}]}, "mark": {"type": "text", "text": "p < 0.004", "fontSize": 18, "color": "#808080"}, "encoding": {"x": {"datum": "-60mV"}, "y": {"datum": 1.076}}},
    {"data": {"values": [{}]}, "mark": {"type": "text", "text": "50Hz", "fontSize": 28}, "encoding": {"x": {"datum": "-60mV"}, "y": {"datum": 1.27}}}
   ]}
 ]
},
{"width": 1, "height": 15, "data": {"values": []}, "mark": "point"},
{
 "bounds": "flush", "spacing": 50,
 "hconcat": [
  {"width": 50, "height": 1, "data": {"values": []}, "mark": "point"},
  {"width": 145, "height": 125,
   "layer": [
    {"data": {"name": "d25"}, "transform": [{"filter": "datum.c === '-50mV'"}], "mark": {"type": "bar", "fill": "#fdd9bd", "stroke": "#f58220", "strokeWidth": 3},
     "encoding": {
      "x": {"field": "c", "type": "nominal", "scale": {"domain": ["-50mV","-60mV","-80mV"], "paddingInner": 0.15, "paddingOuter": 0.15},
            "axis": {"labelAngle": -45, "labelAlign": "right", "labelBaseline": "middle", "domain": false, "ticks": false, "tickSize": 0, "labelPadding": 6, "labelOffset": 6, "labelFontSize": 27, "title": null}},
      "y": {"field": "v", "type": "quantitative", "scale": {"domain": [0, 1], "nice": false},
            "axis": {"values": [0, 0.5, 1], "format": "~g", "labelExpr": "datum.value == 0.5 ? '' : datum.label", "tickSize": {"condition": {"test": "datum.value == 0.5", "value": 6}, "value": 14}, "labelPadding": 6, "title": "δ₂", "titleFont": "Liberation Serif", "titleFontSize": 34, "titleAngle": 0, "titleAlign": "right", "titleBaseline": "middle", "titlePadding": 10}}}},
    {"data": {"name": "d25"}, "transform": [{"filter": "datum.c === '-60mV'"}], "mark": {"type": "bar", "fill": "#c8c8c8", "stroke": "#404040", "strokeWidth": 3},
     "encoding": {"x": {"field": "c", "type": "nominal"}, "y": {"field": "v", "type": "quantitative"}}},
    {"data": {"name": "d25"}, "transform": [{"filter": "datum.c === '-80mV'"}], "mark": {"type": "bar", "fill": "#c2e7fb", "stroke": "#1aa8f0", "strokeWidth": 3},
     "encoding": {"x": {"field": "c", "type": "nominal"}, "y": {"field": "v", "type": "quantitative"}}},
    {"data": {"values": [{}]}, "mark": {"type": "rule", "strokeDash": [10, 6], "strokeWidth": 3, "color": "black"}, "encoding": {"y": {"datum": 0.5}}},
    {"data": {"name": "d25"}, "mark": {"type": "rule", "strokeWidth": 3.5},
     "encoding": {"x": {"field": "c", "type": "nominal"}, "y": {"field": "lo", "type": "quantitative"}, "y2": {"field": "hi"},
      "color": {"field": "c", "type": "nominal", "scale": {"domain": ["-50mV","-60mV","-80mV"], "range": ["#f58220","#404040","#1aa8f0"]}, "legend": null}}},
    {"data": {"name": "d25"}, "mark": {"type": "tick", "thickness": 3.5, "size": 10, "opacity": 1},
     "encoding": {"x": {"field": "c", "type": "nominal"}, "y": {"field": "lo", "type": "quantitative"}, "color": {"field": "c", "type": "nominal", "legend": null}}},
    {"data": {"name": "d25"}, "mark": {"type": "tick", "thickness": 3.5, "size": 10, "opacity": 1},
     "encoding": {"x": {"field": "c", "type": "nominal"}, "y": {"field": "hi", "type": "quantitative"}, "color": {"field": "c", "type": "nominal", "legend": null}}}
   ]},
  {"width": 13, "height": 1, "data": {"values": []}, "mark": "point"},
  {"width": 145, "height": 125,
   "layer": [
    {"data": {"name": "d50"}, "transform": [{"filter": "datum.c === '-50mV'"}], "mark": {"type": "bar", "fill": "#fdd9bd", "stroke": "#f58220", "strokeWidth": 3},
     "encoding": {
      "x": {"field": "c", "type": "nominal", "scale": {"domain": ["-50mV","-60mV","-80mV"], "paddingInner": 0.15, "paddingOuter": 0.15},
            "axis": {"labelAngle": -45, "labelAlign": "right", "labelBaseline": "middle", "domain": false, "ticks": false, "tickSize": 0, "labelPadding": 6, "labelOffset": 6, "labelFontSize": 27, "title": null}},
      "y": {"field": "v", "type": "quantitative", "scale": {"domain": [0, 1], "nice": false},
            "axis": {"values": [0, 0.5, 1], "format": "~g", "labelExpr": "datum.value == 0.5 ? '' : datum.label", "tickSize": {"condition": {"test": "datum.value == 0.5", "value": 6}, "value": 14}, "labelPadding": 6, "title": "δ₂", "titleFont": "Liberation Serif", "titleFontSize": 34, "titleAngle": 0, "titleAlign": "right", "titleBaseline": "middle", "titlePadding": 10}}}},
    {"data": {"name": "d50"}, "transform": [{"filter": "datum.c === '-60mV'"}], "mark": {"type": "bar", "fill": "#c8c8c8", "stroke": "#404040", "strokeWidth": 3},
     "encoding": {"x": {"field": "c", "type": "nominal"}, "y": {"field": "v", "type": "quantitative"}}},
    {"data": {"name": "d50"}, "transform": [{"filter": "datum.c === '-80mV'"}], "mark": {"type": "bar", "fill": "#c2e7fb", "stroke": "#1aa8f0", "strokeWidth": 3},
     "encoding": {"x": {"field": "c", "type": "nominal"}, "y": {"field": "v", "type": "quantitative"}}},
    {"data": {"values": [{}]}, "mark": {"type": "rule", "strokeDash": [10, 6], "strokeWidth": 3, "color": "black"}, "encoding": {"y": {"datum": 0.5}}},
    {"data": {"name": "d50"}, "mark": {"type": "rule", "strokeWidth": 3.5},
     "encoding": {"x": {"field": "c", "type": "nominal"}, "y": {"field": "lo", "type": "quantitative"}, "y2": {"field": "hi"},
      "color": {"field": "c", "type": "nominal", "scale": {"domain": ["-50mV","-60mV","-80mV"], "range": ["#f58220","#404040","#1aa8f0"]}, "legend": null}}},
    {"data": {"name": "d50"}, "mark": {"type": "tick", "thickness": 3.5, "size": 10, "opacity": 1},
     "encoding": {"x": {"field": "c", "type": "nominal"}, "y": {"field": "lo", "type": "quantitative"}, "color": {"field": "c", "type": "nominal", "legend": null}}},
    {"data": {"name": "d50"}, "mark": {"type": "tick", "thickness": 3.5, "size": 10, "opacity": 1},
     "encoding": {"x": {"field": "c", "type": "nominal"}, "y": {"field": "hi", "type": "quantitative"}, "color": {"field": "c", "type": "nominal", "legend": null}}}
   ]}
 ]
}
]
}
